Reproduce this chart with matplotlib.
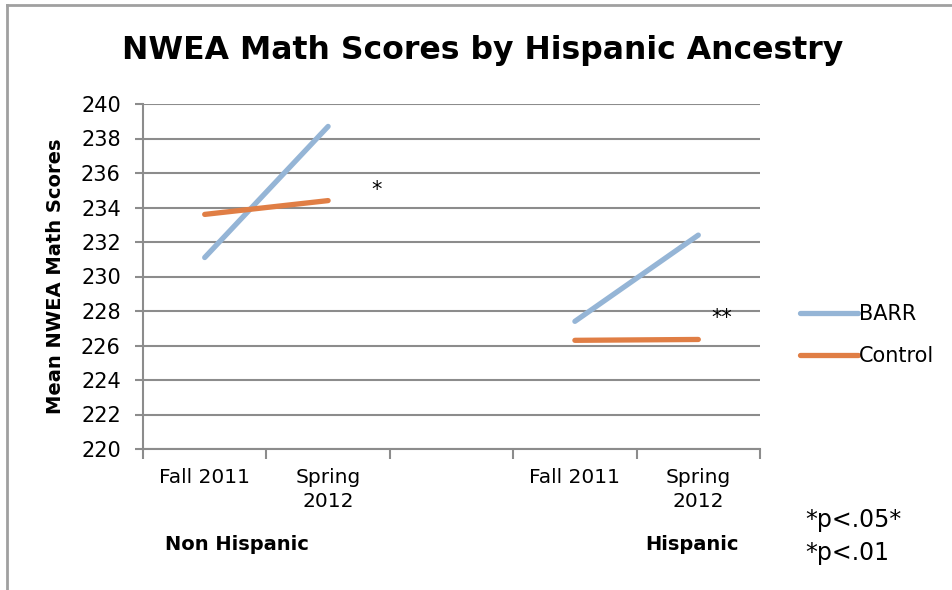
import matplotlib
matplotlib.use("Agg")
import matplotlib.pyplot as plt
from matplotlib.lines import Line2D
import numpy as np

# categories along the x axis (third slot is an empty spacer between groups)
categories = ["Fall 2011", "Spring\n2012", "", "Fall 2011", "Spring\n2012"]
groups = ["Non Hispanic", "Hispanic"]

# mean NWEA math scores, nan where no point is drawn
barr = [231.1, 238.7, np.nan, 227.4, 232.4]
control = [233.6, 234.4, np.nan, 226.3, 226.35]

BLUE = "#95b5d6"
ORANGE = "#e07e45"
GRID = "#8c8c8c"

plt.rcParams["font.family"] = ["DejaVu Sans"]

fig = plt.figure(figsize=(9.52, 5.9), dpi=100)
ax = fig.add_axes([143 / 952, 1 - 449 / 590, 617 / 952, 345 / 590])

x = np.arange(len(categories))
ax.plot(x, barr, color=BLUE, lw=3.8, solid_capstyle="round", label="BARR")
ax.plot(x, control, color=ORANGE, lw=3.8, solid_capstyle="round", label="Control")

ax.set_xlim(-0.5, len(categories) - 0.5)
ax.set_ylim(220, 240)
ax.set_yticks(np.arange(220, 241, 2))
ax.tick_params(axis="y", labelsize=15, length=6, color=GRID, width=1.5, pad=10)
ax.yaxis.grid(True, color=GRID, lw=1.5)
ax.set_axisbelow(True)

ax.set_xticks(x)
ax.set_xticklabels(categories, fontsize=14.5, va="top", linespacing=1.3)
ax.tick_params(axis="x", length=0, pad=14)
ax.set_xticks(np.arange(-0.5, len(categories)), minor=True)
ax.tick_params(axis="x", which="minor", length=7, color=GRID, width=1.5)

for s in ["top", "right"]:
    ax.spines[s].set_visible(False)
for s in ["left", "bottom"]:
    ax.spines[s].set_color(GRID)
    ax.spines[s].set_linewidth(1.5)

ax.set_ylabel("Mean NWEA Math Scores", fontsize=14, fontweight="bold")
ax.yaxis.set_label_coords((65 - 143) / 617, 0.5)

# significance markers
ax.text(1.39, 235.0, "*", fontsize=15, ha="center", va="center")
ax.text(4.19, 227.6, "**", fontsize=15, ha="center", va="center")

fig.suptitle("NWEA Math Scores by Hispanic Ancestry", x=483 / 952, y=1 - 51 / 590,
             va="center", fontsize=22.7, fontweight="bold")

fig.text(237 / 952, 1 - 545 / 590, groups[0], fontsize=14, fontweight="bold",
         ha="center", va="center")
fig.text(692 / 952, 1 - 545 / 590, groups[1], fontsize=14, fontweight="bold",
         ha="center", va="center")

fig.text(805 / 952, 1 - 520 / 590, "*p<.05*", fontsize=17, ha="left", va="center")
fig.text(805 / 952, 1 - 553 / 590, "*p<.01", fontsize=17, ha="left", va="center")

leg = fig.legend(loc="center left", bbox_to_anchor=(800 / 952, 1 - 335 / 590),
                 frameon=False, fontsize=15, handlelength=2.8, handletextpad=0.05,
                 labelspacing=1.05, borderpad=0, borderaxespad=0)

# thin border on the left and top edges, as in the source slide
fig.add_artist(Line2D([7 / 952, 7 / 952], [0, 1 - 5 / 590], transform=fig.transFigure,
                      color="#a0a0a0", lw=2))
fig.add_artist(Line2D([7 / 952, 1], [1 - 5 / 590, 1 - 5 / 590], transform=fig.transFigure,
                      color="#a0a0a0", lw=2))

fig.savefig("out.png", dpi=100)
